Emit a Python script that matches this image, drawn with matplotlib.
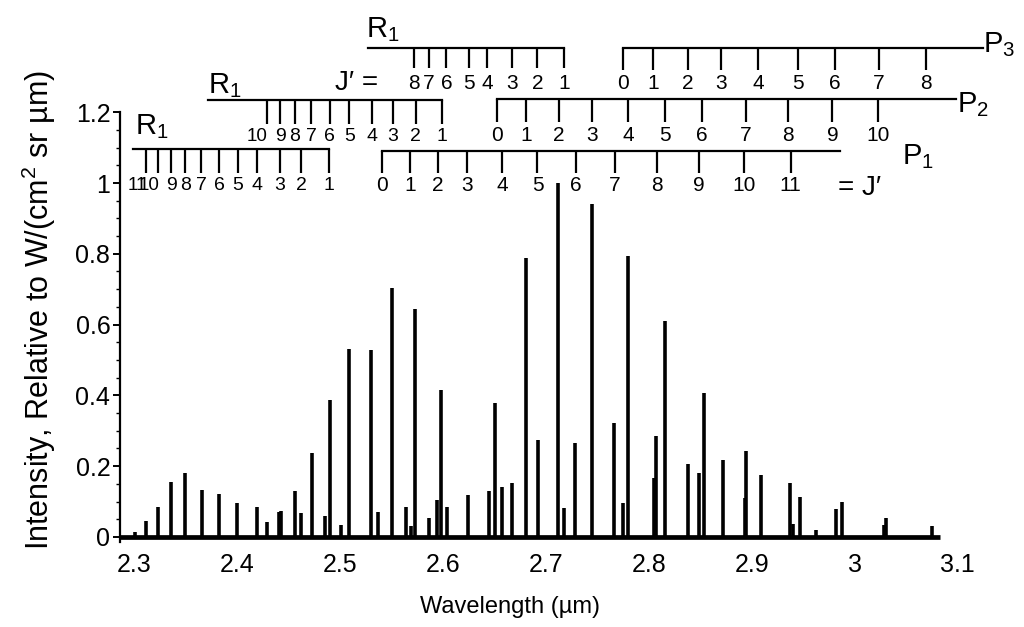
import matplotlib
matplotlib.use('Agg')
import matplotlib.pyplot as plt
from matplotlib.ticker import FixedLocator

plt.rcParams['font.family'] = ['Liberation Sans', 'DejaVu Sans']
plt.rcParams['mathtext.default'] = 'regular'

# Emission lines: wavelength (um) and relative intensity
line_wl = [2.3007, 2.3114, 2.3230, 2.3359, 2.3498, 2.3657, 2.3825, 2.4003, 2.4197,
           2.4288, 2.4405, 2.4424, 2.4566, 2.4621, 2.4725, 2.4857, 2.4900, 2.5010,
           2.5090, 2.5298, 2.5366, 2.5508, 2.5641, 2.5689, 2.5731, 2.5861, 2.5939,
           2.5978, 2.6042, 2.6240, 2.6447, 2.6508, 2.6570, 2.6673, 2.6803, 2.6922,
           2.7119, 2.7175, 2.7285, 2.7453, 2.7667, 2.7745, 2.7799, 2.8055, 2.8071,
           2.8162, 2.8379, 2.8492, 2.8541, 2.8722, 2.8935, 2.8949, 2.9088, 2.9369,
           2.9405, 2.9473, 2.9621, 2.9816, 2.9881, 3.0282, 3.0308, 3.0754]
line_int = [0.015, 0.046, 0.084, 0.154, 0.180, 0.133, 0.121, 0.097, 0.086,
            0.042, 0.070, 0.074, 0.131, 0.067, 0.237, 0.059, 0.388, 0.034,
            0.531, 0.529, 0.070, 0.704, 0.086, 0.030, 0.643, 0.055, 0.105,
            0.416, 0.086, 0.119, 0.131, 0.378, 0.141, 0.152, 0.789, 0.275,
            1.000, 0.081, 0.265, 0.940, 0.322, 0.095, 0.793, 0.166, 0.284,
            0.609, 0.207, 0.180, 0.408, 0.218, 0.110, 0.243, 0.175, 0.152,
            0.036, 0.114, 0.020, 0.078, 0.098, 0.034, 0.055, 0.031]
scan_start, scan_end = 2.2864, 3.0825

# Line assignments: tick positions (um) and J' values for each branch
r1_v1_wl = [2.3114, 2.3232, 2.3362, 2.3500, 2.3652, 2.3826, 2.4010, 2.4199, 2.4417, 2.4625, 2.4890]
r1_v1_j = [11, 10, 9, 8, 7, 6, 5, 4, 3, 2, 1]
r1_v2_wl = [2.4288, 2.4420, 2.4560, 2.4722, 2.4899, 2.5090, 2.5310, 2.5512, 2.5735, 2.5995]
r1_v2_j = [10, 9, 8, 7, 6, 5, 4, 3, 2, 1]
r1_v3_wl = [2.5720, 2.5864, 2.6035, 2.6250, 2.6430, 2.6672, 2.6919, 2.7180]
r1_v3_j = [8, 7, 6, 5, 4, 3, 2, 1]
p3_wl = [2.7745, 2.8045, 2.8382, 2.8700, 2.9060, 2.9449, 2.9809, 3.0236, 3.0689]
p3_j = [0, 1, 2, 3, 4, 5, 6, 7, 8]
p2_wl = [2.6525, 2.6808, 2.7126, 2.7452, 2.7799, 2.8155, 2.8515, 2.8940, 2.9353, 2.9783, 3.0226]
p2_j = [0, 1, 2, 3, 4, 5, 6, 7, 8, 9, 10]
p1_wl = [2.5405, 2.5680, 2.5954, 2.6238, 2.6576, 2.6919, 2.7291, 2.7670, 2.8078, 2.8490, 2.8922, 2.9379]
p1_j = [0, 1, 2, 3, 4, 5, 6, 7, 8, 9, 10, 11]

x_ticks = [2.3, 2.4, 2.5, 2.6, 2.7, 2.8, 2.9, 3.0, 3.1]
x_ticklabels = ['2.3', '2.4', '2.5', '2.6', '2.7', '2.8', '2.9', '3', '3.1']
y_ticks = [0, 0.2, 0.4, 0.6, 0.8, 1.0, 1.2]
y_ticklabels = ['0', '0.2', '0.4', '0.6', '0.8', '1', '1.2']

fig = plt.figure(figsize=(10.24, 6.27), dpi=100)
ax = fig.add_axes([0.1172, 0.1308, 0.859, 0.8612])

# spectrum
ax.plot([scan_start, scan_end], [0, 0], color='black', lw=3.4, solid_capstyle='butt')
ax.vlines(line_wl, 0, line_int, color='black', lw=2.6)

ax.set_xlim(2.2864, 3.1408)
ax.set_ylim(-0.0226, 1.5028)

for s in ['top', 'right', 'bottom']:
    ax.spines[s].set_visible(False)
ax.spines['left'].set_bounds(-0.015, 1.2)
ax.spines['left'].set_linewidth(1.6)

ax.set_xticks(x_ticks)
ax.set_xticklabels(x_ticklabels)
ax.set_yticks(y_ticks)
ax.set_yticklabels(y_ticklabels)
# minor ticks every 0.05 up to the top of the axis
ax.yaxis.set_minor_locator(FixedLocator([v / 20 for v in range(0, 25) if v % 4 != 0]))
ax.tick_params(axis='x', length=0, pad=6, labelsize=18)
ax.tick_params(axis='y', which='major', length=5, width=1.4, pad=2, labelsize=18)
ax.tick_params(axis='y', which='minor', length=3, width=1.0)

ax.set_xlabel('Wavelength (µm)', fontsize=17)
ax.xaxis.set_label_coords(0.443, -0.095)
ax.set_ylabel('Intensity, Relative to W/(cm$^2$ sr µm)', fontsize=22)
ax.yaxis.set_label_coords(-0.070, 0.435)


def branch(wl, js, y_line, y_tick, y_text, x0, x1, size=15, dense=False):
    ax.plot([x0, x1], [y_line, y_line], color='black', lw=1.6, clip_on=False)
    ax.vlines(wl, y_tick, y_line, color='black', lw=1.6, clip_on=False)
    for w, j in zip(wl, js):
        # crowded two-digit labels sit just left of their tick, as in the figure
        if dense and j >= 10:
            ax.text(w + 0.0012, y_text, str(j), ha='right', va='center',
                    fontsize=size - 1.5, clip_on=False)
        else:
            ax.text(w, y_text, str(j), ha='center', va='center',
                    fontsize=size - (1 if dense else 0), clip_on=False)


branch(r1_v1_wl, r1_v1_j, 1.096, 1.028, 0.994, 2.2993, r1_v1_wl[-1], dense=True)
branch(r1_v2_wl, r1_v2_j, 1.234, 1.166, 1.131, 2.3721, r1_v2_wl[-1], dense=True)
branch(r1_v3_wl, r1_v3_j, 1.380, 1.326, 1.280, 2.5269, r1_v3_wl[-1])
branch(p3_wl, p3_j, 1.382, 1.320, 1.282, p3_wl[0], 3.1246)
branch(p2_wl, p2_j, 1.236, 1.172, 1.133, p2_wl[0], 3.0987)
branch(p1_wl, p1_j, 1.090, 1.028, 0.994, p1_wl[0], 2.9854)

lab = dict(fontsize=21, ha='left', va='center', clip_on=False)
ax.text(2.3005, 1.160, 'R$_1$', **lab)
ax.text(2.3716, 1.276, 'R$_1$', **lab)
ax.text(2.5255, 1.432, 'R$_1$', **lab)
ax.text(3.1250, 1.392, 'P$_3$', **lab)
ax.text(3.0995, 1.222, 'P$_2$', **lab)
ax.text(3.0460, 1.075, 'P$_1$', **lab)
ax.text(2.4955, 1.283, 'J\u2032 =', fontsize=20, ha='left', va='center', clip_on=False)
ax.text(2.9840, 0.985, '= J\u2032', fontsize=20, ha='left', va='center', clip_on=False)

fig.savefig('out.png', dpi=100)
